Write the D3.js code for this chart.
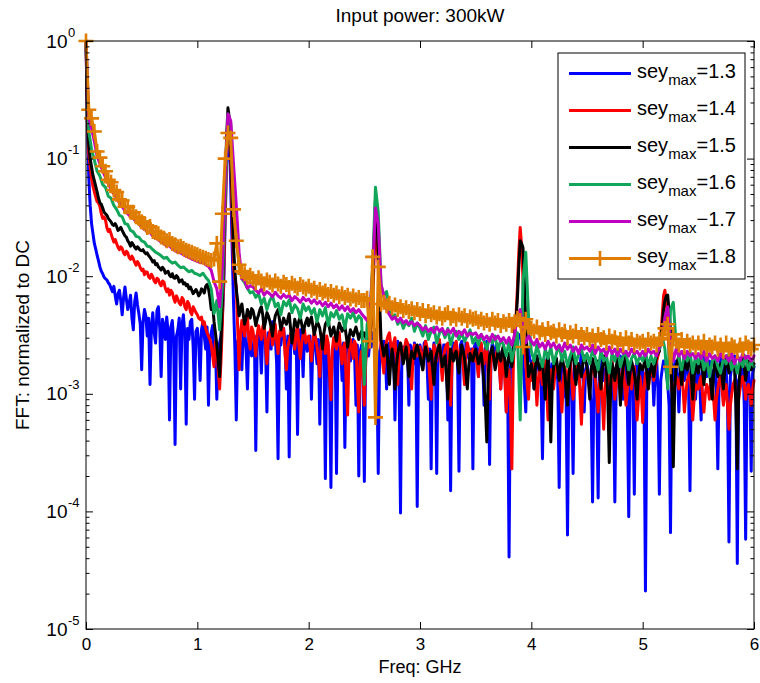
<!DOCTYPE html>
<html><head><meta charset="utf-8">
<script src="https://cdn.jsdelivr.net/npm/d3@7"></script>
<style>body{margin:0;background:#fff} svg{display:block} text{font-family:"Liberation Sans",Arial,Helvetica,sans-serif;fill:#000}</style>
</head><body><svg id="c" width="760" height="683"></svg>
<script>
// ---------- DATA ----------
// frequency grids (GHz)
const freqStep = 0.025, nPoints = 241;            // green, magenta, orange
const freqStepFine = 0.0125, nPointsFine = 481;   // blue, red, black
const freq = d3.range(nPoints).map(i => +(i * freqStep).toFixed(4));
const freqFine = d3.range(nPointsFine).map(i => +(i * freqStepFine).toFixed(4));

const sey13 = [
1.0,0.2,0.07,0.04,0.028,0.023,0.019,0.017,0.015,0.0135,0.012,0.011,0.0105,0.0098,0.0095,0.0093,0.0088,0.0085,0.0079,0.0074,0.0082,0.0068,0.0058,0.0071,0.0076,0.0062,0.0047,0.0066,0.0081,0.0064,0.0052,0.0059,0.0069,0.0044,0.0035,0.0061,0.0072,0.0057,0.0048,0.0039,
0.0016,0.0041,0.0052,0.0046,0.0031,0.0044,0.0012,0.0038,0.0049,0.0033,0.0027,0.0051,0.0055,0.0036,0.0014,0.0043,0.0038,0.0029,0.0045,0.0034,0.0006,0.0037,0.0042,0.0028,0.00037,0.0031,0.0035,0.0044,0.0011,0.0039,0.0047,0.0032,0.00055,0.0036,0.0029,0.0041,0.0043,0.0025,0.0009,0.0034,
0.0036,0.0027,0.0013,0.0035,0.0041,0.0031,0.0024,0.0037,0.0008,0.0029,0.0033,0.0038,0.0019,0.0026,0.0009,0.0022,0.0027,0.0031,0.0045,0.0085,0.03,0.09,0.19,0.14,0.06,0.018,0.006,0.0024,0.0006,0.0028,0.0031,0.0026,0.0016,0.0033,0.0036,0.0024,0.0011,0.003,0.0029,0.0021,
0.0024,0.0031,0.00033,0.0027,0.0034,0.0029,0.0015,0.0032,0.0038,0.0026,0.0007,0.0033,0.0028,0.0024,0.0041,0.0035,0.0031,0.0018,0.00028,0.0029,0.0026,0.0033,0.0036,0.0027,0.0011,0.0031,0.00029,0.0025,0.0032,0.0028,0.0022,0.0034,0.00045,0.0027,0.0035,0.0029,0.0014,0.0032,0.0029,0.0023,
0.0027,0.0031,0.0009,0.0026,0.0031,0.0024,0.0018,0.0029,0.00055,0.0025,0.0028,0.0022,0.00019,0.0027,0.0026,0.0014,0.00016,0.0024,0.0021,0.0028,0.00021,0.0023,0.0028,0.0025,0.0013,0.0027,0.00035,0.0022,0.0027,0.003,0.0019,0.0024,0.0029,0.0021,0.0008,0.0026,0.0002,0.0023,0.0026,0.0019,
0.00018,0.0024,0.0026,0.0021,0.0028,0.0025,0.0033,0.0029,0.0035,0.0016,0.00021,0.0023,0.0026,0.0021,0.0028,0.0024,0.0011,0.0026,0.0027,0.0019,0.0024,0.0027,0.0006,0.0022,0.0028,0.0012,0.000097,0.0023,0.0025,0.0021,0.0027,0.0024,0.0008,0.0026,0.0024,0.0018,0.0027,0.0022,0.00011,0.0024,
0.0026,0.0022,0.0017,0.0027,0.0028,0.0019,0.0009,0.0024,0.00023,0.0021,0.0027,0.0023,0.00021,0.0025,0.0028,0.0021,0.0015,0.0026,0.0026,0.0022,0.0006,0.0024,0.00015,0.0023,0.0027,0.0025,0.0021,0.0019,0.00022,0.0026,0.0028,0.0022,0.0012,0.0027,0.0025,0.002,0.0019,0.0024,0.00023,0.0025,
0.0027,0.0023,0.0014,0.0025,0.0026,0.0021,0.0008,0.0024,0.0028,0.0018,0.00025,0.0022,0.0027,0.0024,0.0018,0.0026,0.0026,0.0019,0.0011,0.0023,0.0024,0.0016,0.0007,0.0012,0.000041,0.0017,0.0021,0.0025,0.0024,0.0027,0.0029,0.0031,0.0032,0.0026,0.0019,0.0012,0.0007,0.0021,0.0024,0.0019,
0.0019,0.0016,0.0011,0.0018,0.0021,0.0017,0.0014,0.0012,0.00028,0.0015,0.0017,0.0019,0.0022,0.0016,0.0008,0.0018,0.0016,0.0014,0.002,0.0013,0.00016,0.0015,0.0018,0.0017,0.001,0.0009,0.000063,0.0014,0.0021,0.0011,0.00021,0.0016,0.0019,0.0018,0.0014,0.0017,0.0023,0.0015,0.0007,0.0016,
0.0018,0.0015,0.0011,0.0008,0.00012,0.0013,0.0016,0.0009,0.00013,0.0014,0.002,0.0017,0.0013,0.0016,0.0017,0.0014,0.0006,0.0015,0.0019,0.0011,0.00012,0.0013,0.0015,0.0018,0.0021,0.0016,0.0009,0.0015,0.0018,0.0008,0.00009,0.0014,0.0016,0.0011,0.00014,0.0015,0.0019,0.0017,0.0012,0.0016,
0.0017,0.0009,0.000021,0.0014,0.0019,0.0016,0.0014,0.0017,0.0008,0.0015,0.002,0.0011,0.00014,0.0013,0.0016,0.0019,0.0018,0.0015,0.0012,0.0008,0.000066,0.0012,0.0015,0.0018,0.0019,0.0014,0.0007,0.0015,0.0017,0.0016,0.0013,0.0018,0.002,0.0012,0.00015,0.0014,0.0016,0.0013,0.0009,0.0015,
0.0018,0.0013,0.0006,0.0016,0.0021,0.0017,0.0014,0.0018,0.0019,0.0015,0.001,0.0016,0.0016,0.0011,0.00023,0.0015,0.002,0.0017,0.0012,0.0018,0.0016,0.0009,0.000055,0.0014,0.0017,0.0019,0.0021,0.0012,0.000036,0.0013,0.0014,0.0017,0.0019,0.0008,0.000058,0.0014,0.0016,0.0012,0.00022,0.0015,0.0017];

const sey14 = [
1.0,0.25,0.11,0.085,0.068,0.058,0.052,0.047,0.043,0.042,0.039,0.034,0.031,0.032,0.03,0.026,0.024,0.025,0.023,0.021,0.0195,0.0205,0.019,0.0176,0.0168,0.0178,0.0172,0.0158,0.0152,0.0163,0.0158,0.0144,0.0139,0.0148,0.0141,0.0131,0.0124,0.0133,0.0127,0.0118,
0.0112,0.0115,0.0103,0.0109,0.0108,0.0099,0.0096,0.0104,0.0099,0.0091,0.0088,0.0096,0.0094,0.0086,0.0083,0.0091,0.0089,0.0079,0.0074,0.0078,0.0069,0.0076,0.0073,0.0065,0.006,0.0068,0.0064,0.0059,0.0057,0.0066,0.0063,0.0055,0.0052,0.0061,0.0058,0.005,0.0047,0.0055,0.0052,0.0049,
0.0047,0.0044,0.0043,0.0045,0.0039,0.0041,0.0036,0.0033,0.0031,0.0029,0.0026,0.0021,0.0017,0.0028,0.0024,0.0016,0.0011,0.0019,0.004,0.011,0.035,0.1,0.22,0.17,0.1,0.035,0.012,0.0095,0.008,0.0036,0.0016,0.0033,0.0042,0.0036,0.0031,0.0039,0.0045,0.0029,0.0024,0.0037,
0.0034,0.0027,0.0021,0.0032,0.0038,0.0033,0.0029,0.0037,0.0041,0.0026,0.0018,0.0029,0.0033,0.0037,0.0026,0.0031,0.0039,0.0028,0.0022,0.0034,0.0031,0.0033,0.0036,0.0022,0.0016,0.0025,0.0028,0.0032,0.0035,0.0029,0.0024,0.0033,0.0038,0.0026,0.002,0.0027,0.0032,0.0035,0.0027,0.0029,
0.0031,0.0025,0.0019,0.0028,0.0034,0.003,0.0025,0.002,0.0014,0.0026,0.0032,0.0027,0.0022,0.0031,0.0027,0.0015,0.00089,0.0024,0.003,0.0027,0.0024,0.0029,0.0033,0.0023,0.0018,0.0025,0.0027,0.0012,0.00066,0.0023,0.0029,0.0025,0.002,0.0028,0.0026,0.0013,0.0007,0.0019,0.0023,0.0014,
0.0008,0.0019,0.0024,0.0027,0.0029,0.0038,0.006,0.014,0.03,0.022,0.012,0.0045,0.0024,0.0019,0.0015,0.0024,0.0028,0.0031,0.0033,0.0026,0.0021,0.0027,0.003,0.0019,0.0012,0.0022,0.0027,0.0023,0.0019,0.0025,0.0029,0.0027,0.0024,0.0016,0.0011,0.0021,0.0026,0.0024,0.0021,0.0023,
0.0025,0.0021,0.0016,0.0024,0.0028,0.0025,0.0021,0.0014,0.0009,0.0021,0.0026,0.0023,0.0019,0.0025,0.0029,0.0019,0.0013,0.0021,0.0024,0.0026,0.0027,0.0015,0.0008,0.0018,0.0022,0.0026,0.0028,0.0022,0.0017,0.0023,0.0025,0.0018,0.0012,0.0022,0.0027,0.0024,0.002,0.0022,0.0024,0.0019,
0.0022,0.0018,0.0014,0.0023,0.0027,0.0021,0.0018,0.0023,0.0025,0.0015,0.0009,0.0019,0.0023,0.002,0.0017,0.0022,0.0026,0.0017,0.0011,0.0018,0.0021,0.0013,0.0007,0.0014,0.0016,0.0008,0.00023,0.0016,0.0035,0.0045,0.008,0.016,0.026,0.018,0.0095,0.0038,0.0018,0.0012,0.0009,0.0016,
0.0013,0.0017,0.0021,0.0014,0.0008,0.0013,0.0017,0.0015,0.0012,0.0016,0.0019,0.0011,0.0006,0.0012,0.0016,0.0014,0.0011,0.0015,0.0018,0.0016,0.0014,0.0011,0.0007,0.0013,0.0017,0.0015,0.0012,0.0016,0.0019,0.0013,0.0009,0.0012,0.0015,0.0017,0.0018,0.001,0.00055,0.0011,0.0014,0.0015,
0.0016,0.0013,0.0011,0.0015,0.0018,0.0016,0.0013,0.001,0.0007,0.0012,0.0015,0.0009,0.0005,0.0011,0.0017,0.0014,0.0012,0.0016,0.0019,0.0013,0.0009,0.0012,0.0016,0.0014,0.0013,0.0015,0.0018,0.0012,0.0008,0.0011,0.0015,0.0013,0.0011,0.0015,0.0017,0.0011,0.0006,0.0009,0.0014,0.0011,
0.00057,0.0011,0.0015,0.0013,0.0011,0.0014,0.0017,0.0015,0.0013,0.0016,0.0019,0.0021,0.0024,0.0032,0.0045,0.0068,0.0076,0.0058,0.004,0.0022,0.0016,0.0011,0.0009,0.0012,0.0014,0.0013,0.0011,0.0014,0.0016,0.0011,0.0007,0.001,0.0013,0.0014,0.0015,0.001,0.0006,0.0009,0.0012,0.0011,
0.0011,0.0013,0.0014,0.001,0.0007,0.001,0.0012,0.0011,0.0009,0.0012,0.0013,0.0009,0.0006,0.0009,0.0011,0.0013,0.0014,0.0011,0.0008,0.001,0.0012,0.0008,0.0005,0.0008,0.001,0.0012,0.0013,0.001,0.0007,0.0009,0.0011,0.0013,0.0014,0.0012,0.0009,0.0011,0.0012,0.001,0.0008,0.0011,0.0013];

const sey15 = [
1.0,0.3,0.13,0.1,0.085,0.072,0.065,0.058,0.052,0.046,0.042,0.041,0.038,0.035,0.034,0.033,0.031,0.03,0.029,0.0275,0.027,0.028,0.0265,0.0245,0.025,0.026,0.0245,0.0232,0.022,0.0215,0.02,0.0192,0.018,0.0193,0.0185,0.0176,0.017,0.0178,0.0172,0.0166,
0.0165,0.0168,0.016,0.0155,0.0158,0.015,0.0145,0.0139,0.0132,0.0136,0.0125,0.0128,0.012,0.0117,0.0113,0.0119,0.0115,0.0106,0.0108,0.011,0.0102,0.0099,0.0105,0.0097,0.0096,0.0101,0.0098,0.0089,0.0092,0.0093,0.0086,0.0088,0.0083,0.0085,0.0078,0.0081,0.0076,0.0071,0.0074,0.0077,
0.0073,0.0068,0.0071,0.0078,0.0076,0.0072,0.0082,0.0085,0.0079,0.0066,0.0052,0.0058,0.0041,0.0033,0.0026,0.0019,0.0014,0.0028,0.006,0.018,0.06,0.15,0.27,0.22,0.12,0.05,0.018,0.011,0.0077,0.0061,0.0046,0.0053,0.0058,0.0047,0.0039,0.0044,0.0052,0.0048,0.0044,0.0053,
0.0051,0.0045,0.0038,0.0043,0.0047,0.0052,0.0055,0.0047,0.0036,0.0041,0.0049,0.0046,0.0042,0.0037,0.0031,0.0039,0.0046,0.0049,0.0052,0.0043,0.0035,0.0039,0.0044,0.0041,0.0039,0.0043,0.0048,0.0036,0.0027,0.0034,0.0043,0.0039,0.0037,0.0042,0.0045,0.0039,0.0033,0.0037,0.0041,0.0044,
0.0038,0.0042,0.0045,0.0038,0.0032,0.0036,0.0041,0.0039,0.0036,0.003,0.0024,0.0033,0.0039,0.0041,0.0043,0.0036,0.0031,0.0034,0.0037,0.0032,0.0028,0.0035,0.004,0.0037,0.0034,0.0036,0.0038,0.0031,0.0025,0.003,0.0035,0.0033,0.0031,0.0034,0.0037,0.0033,0.0029,0.0032,0.0034,0.0031,
0.0033,0.003,0.0027,0.0029,0.0031,0.0042,0.0075,0.02,0.045,0.032,0.016,0.006,0.0029,0.0025,0.0021,0.0024,0.0026,0.0018,0.0012,0.0019,0.0024,0.0017,0.0011,0.0017,0.0022,0.0025,0.0027,0.0022,0.0018,0.0021,0.0025,0.0019,0.0014,0.0019,0.0023,0.0021,0.002,0.0024,0.0026,0.0023,
0.0021,0.0018,0.0016,0.0021,0.0025,0.0022,0.0019,0.0021,0.0023,0.0017,0.0012,0.0018,0.0022,0.0024,0.0026,0.0021,0.0017,0.0019,0.0021,0.0014,0.0009,0.0017,0.0024,0.0021,0.0019,0.0022,0.0023,0.0018,0.0015,0.0021,0.0026,0.0023,0.002,0.0015,0.0011,0.0017,0.0022,0.002,0.0019,0.0022,
0.0024,0.0021,0.0018,0.002,0.0022,0.0017,0.0012,0.0008,0.00039,0.0014,0.0021,0.0023,0.0025,0.002,0.0016,0.0019,0.0023,0.0021,0.0019,0.0023,0.0026,0.0019,0.0014,0.0018,0.0022,0.0019,0.0017,0.0022,0.0031,0.0042,0.0065,0.012,0.02,0.019,0.0175,0.009,0.004,0.0022,0.0014,0.0016,
0.0018,0.0015,0.0011,0.0017,0.0021,0.0018,0.0016,0.0018,0.0019,0.0013,0.0009,0.0016,0.0022,0.0011,0.00039,0.0012,0.0017,0.0019,0.002,0.0016,0.0013,0.0018,0.0021,0.0018,0.0015,0.0011,0.0008,0.0014,0.0019,0.002,0.0022,0.0017,0.0012,0.0015,0.0018,0.0016,0.0014,0.0018,0.0021,0.0019,
0.0017,0.0013,0.0009,0.0016,0.002,0.0017,0.0014,0.0017,0.0019,0.0015,0.0011,0.0016,0.0021,0.0019,0.0016,0.0009,0.00026,0.0012,0.0018,0.0016,0.0013,0.0017,0.002,0.0014,0.0008,0.0013,0.0017,0.0019,0.0021,0.0016,0.0012,0.0016,0.0019,0.0017,0.0015,0.0012,0.0009,0.0014,0.0018,0.0017,
0.0016,0.0018,0.002,0.0015,0.0011,0.0015,0.0018,0.0016,0.0014,0.0018,0.0021,0.0022,0.0023,0.0029,0.0038,0.0052,0.0062,0.0068,0.0069,0.005,0.0035,0.001,0.00024,0.0011,0.0017,0.0019,0.0021,0.0016,0.0012,0.0016,0.0019,0.0017,0.0016,0.0019,0.0022,0.0014,0.0009,0.0014,0.0018,0.0016,
0.0015,0.0018,0.0021,0.0016,0.0012,0.0016,0.0019,0.0017,0.0016,0.0012,0.0009,0.0015,0.002,0.0017,0.0014,0.0016,0.0018,0.0014,0.0011,0.0016,0.0021,0.0018,0.0015,0.0017,0.0019,0.0018,0.0017,0.0008,0.00023,0.0011,0.0016,0.0019,0.0021,0.0017,0.0013,0.0016,0.0019,0.0017,0.0016,0.0017,0.0018];

const sey16 = [
1.0,0.17,0.12,0.097,0.078,0.071,0.06,0.057,0.048,0.046,0.04,0.037,0.033,0.032,0.028,0.0275,0.0245,0.0238,0.0218,0.0215,
0.02,0.0195,0.018,0.0178,0.0168,0.016,0.0155,0.0149,0.0142,0.0145,0.0135,0.0129,0.0132,0.0124,0.0118,0.012,0.0114,0.0109,0.0112,0.0106,
0.0104,0.0101,0.0106,0.0098,0.0092,0.0078,0.0048,0.0062,0.0035,0.008,0.05,0.24,0.2,0.04,0.026,0.012,0.0095,0.0088,0.0079,0.0072,
0.0074,0.0066,0.0071,0.0058,0.0065,0.0052,0.0062,0.0068,0.0055,0.0059,0.0047,0.0061,0.0056,0.0063,0.0049,0.0057,0.0053,0.0044,0.0058,0.0051,
0.0055,0.0048,0.0053,0.0041,0.0052,0.0046,0.0054,0.0038,0.0049,0.0045,0.0051,0.0043,0.0047,0.0036,0.0048,0.0044,0.0049,0.0041,0.0046,0.0043,
0.0012,0.0039,0.0048,0.012,0.057,0.035,0.0085,0.0068,0.0074,0.0052,0.0045,0.0047,0.0039,0.0043,0.0036,0.0041,0.0038,0.0044,0.0034,0.004,
0.0036,0.0031,0.0038,0.0029,0.0034,0.0037,0.0027,0.0033,0.0035,0.003,0.0036,0.0026,0.0032,0.0034,0.0029,0.0033,0.0028,0.0031,0.0035,0.0027,
0.003,0.0026,0.0032,0.0028,0.0024,0.003,0.0027,0.0031,0.0023,0.0029,0.0026,0.0021,0.0028,0.0019,0.0025,0.0033,0.0006,0.009,0.016,0.0045,
0.0023,0.0019,0.0026,0.0021,0.0017,0.0024,0.002,0.0025,0.0018,0.0022,0.0026,0.0019,0.0023,0.0017,0.0021,0.0025,0.0018,0.0022,0.0024,0.0019,
0.0022,0.0018,0.0024,0.002,0.0016,0.0023,0.0019,0.0021,0.0015,0.0022,0.0019,0.0024,0.0017,0.0021,0.0023,0.0016,0.002,0.0022,0.0018,0.0021,
0.0019,0.0023,0.0017,0.0021,0.0018,0.0022,0.0024,0.0031,0.0024,0.0011,0.0052,0.006,0.0027,0.002,0.0016,0.0022,0.0019,0.0023,0.0015,0.0021,
0.0018,0.0022,0.0016,0.002,0.0014,0.0019,0.0021,0.0017,0.0015,0.002,0.0018,0.0022,0.0016,0.0019,0.0015,0.002,0.0017,0.0021,0.0016,0.0019,0.0017];

const sey17 = [
1.0,0.22,0.18,0.14,0.105,0.09,0.079,0.069,0.061,0.055,0.05,0.046,0.042,0.039,0.036,0.034,0.032,0.031,0.029,0.028,
0.026,0.025,0.024,0.0235,0.022,0.021,0.0205,0.0195,0.019,0.018,0.0182,0.017,0.0165,0.016,0.0158,0.0152,0.0148,0.0144,0.014,0.0137,
0.0134,0.013,0.0132,0.0125,0.0121,0.0112,0.009,0.0078,0.0055,0.012,0.07,0.24,0.21,0.09,0.04,0.016,0.0095,0.0092,0.0079,0.0083,
0.0081,0.0076,0.0072,0.0078,0.0069,0.0074,0.0071,0.0067,0.0073,0.0068,0.0065,0.007,0.0066,0.0069,0.0062,0.0067,0.0064,0.006,0.0066,0.0062,
0.0064,0.0059,0.0063,0.0058,0.0061,0.0056,0.006,0.0055,0.0059,0.0054,0.0057,0.0052,0.0056,0.0051,0.0055,0.005,0.0053,0.0049,0.0052,0.0048,
0.0045,0.0042,0.005,0.011,0.038,0.028,0.0085,0.0068,0.0052,0.0047,0.0043,0.0045,0.0041,0.0044,0.004,0.0042,0.0039,0.0041,0.0038,0.004,
0.0038,0.0035,0.0037,0.0034,0.0036,0.0033,0.0037,0.0034,0.0036,0.0032,0.0035,0.0033,0.0036,0.0031,0.0034,0.0032,0.0035,0.0031,0.0033,0.0032,
0.0033,0.003,0.0032,0.0029,0.0031,0.0028,0.0032,0.0029,0.0031,0.0028,0.003,0.0027,0.003,0.0026,0.0032,0.0046,0.0052,0.0036,0.0027,0.0031,
0.0028,0.0026,0.0029,0.0025,0.0027,0.0024,0.0028,0.0025,0.0027,0.0024,0.0026,0.0023,0.0027,0.0024,0.0026,0.0023,0.0025,0.0022,0.0026,0.0024,
0.0025,0.0023,0.0026,0.0022,0.0025,0.0023,0.0024,0.0021,0.0025,0.0022,0.0024,0.0021,0.0024,0.0022,0.0023,0.0021,0.0024,0.0022,0.0023,0.0021,
0.0023,0.0021,0.0024,0.0022,0.0023,0.0021,0.0025,0.003,0.0045,0.0055,0.0028,0.0019,0.0024,0.0021,0.0023,0.002,0.0023,0.0021,0.0022,0.002,
0.0022,0.002,0.0023,0.0019,0.0022,0.002,0.0021,0.0019,0.0022,0.002,0.0021,0.0019,0.0022,0.0018,0.0021,0.0019,0.0022,0.002,0.0021,0.0019,0.0021];

const sey18 = [
1.0,0.26,0.22,0.17,0.115,0.102,0.086,0.078,0.066,0.063,0.054,0.052,0.045,0.044,0.039,0.039,0.035,0.035,0.032,0.031,
0.029,0.028,0.026,0.0265,0.024,0.0235,0.023,0.0215,0.021,0.02,0.0205,0.019,0.0185,0.0178,0.018,0.0172,0.0166,0.0163,0.016,0.0155,
0.0152,0.0148,0.0145,0.0142,0.0139,0.0136,0.014,0.019,0.009,0.034,0.1,0.165,0.15,0.037,0.02,0.0125,0.011,0.0105,0.0098,0.0102,
0.0095,0.0088,0.0097,0.0091,0.0086,0.0093,0.0089,0.0084,0.0091,0.0086,0.0082,0.0089,0.0085,0.008,0.0087,0.0083,0.0079,0.0085,0.0081,0.0078,
0.0082,0.0076,0.0079,0.0073,0.0077,0.0072,0.0075,0.007,0.0074,0.0069,0.0072,0.0067,0.0071,0.0066,0.0069,0.0064,0.0068,0.0063,0.0066,0.0062,
0.0062,0.0065,0.0028,0.0146,0.00063,0.012,0.0058,0.006,0.0056,0.0059,0.0054,0.0057,0.0052,0.0055,0.0051,0.0054,0.005,0.0053,0.0049,0.0052,
0.0048,0.0051,0.0046,0.005,0.0047,0.0049,0.0045,0.0048,0.0044,0.0047,0.0049,0.0044,0.0046,0.0043,0.0047,0.0044,0.0046,0.0042,0.0045,0.0043,
0.0044,0.0041,0.0043,0.004,0.0042,0.0039,0.0043,0.004,0.0042,0.0038,0.0041,0.0039,0.0042,0.0038,0.0041,0.0044,0.0042,0.0025,0.0043,0.0037,
0.0036,0.0034,0.0037,0.0033,0.0035,0.0032,0.0036,0.0033,0.0034,0.0031,0.0035,0.0032,0.0034,0.003,0.0033,0.0031,0.0034,0.003,0.0032,0.003,
0.0032,0.0029,0.0031,0.0028,0.0032,0.0029,0.003,0.0027,0.0031,0.0028,0.003,0.0027,0.0029,0.0026,0.003,0.0027,0.0029,0.0026,0.0028,0.0027,
0.0028,0.0026,0.0029,0.0027,0.0028,0.0026,0.0029,0.003,0.0036,0.0039,0.0017,0.0032,0.0028,0.0026,0.0029,0.0025,0.0028,0.0026,0.0027,0.0025,
0.0027,0.0025,0.0028,0.0024,0.0026,0.0025,0.0027,0.0024,0.0026,0.0023,0.0027,0.0024,0.0026,0.0025,0.0023,0.0026,0.0024,0.0027,0.0025,0.0024,0.0026];

const seriesNames = ["1.3","1.4","1.5","1.6","1.7","1.8"];
const legendOps   = ["=","=","=","=","\u2212","="];
const xTicks = [0,1,2,3,4,5,6];
const yExponents = [0,-1,-2,-3,-4,-5];
const titleText = "Input power: 300kW";
const xLabelText = "Freq: GHz";
const yLabelText = "FFT: normalized to DC";

// ---------- STYLE / LAYOUT ----------
const colors = ["#0000ff","#ff0000","#000000","#12a65a","#bf00bf","#df7d00"];
const allSeries = [sey13,sey14,sey15,sey16,sey17,sey18];
const grids = [freqFine,freqFine,freqFine,freq,freq,freq];
const M = {l:86, r:754, t:41, b:629};

const svg = d3.select("#c");
const x = d3.scaleLinear().domain([0,6]).range([M.l, M.r]);
const y = d3.scaleLog().domain([1e-5,1]).range([M.b, M.t]);

svg.append("rect").attr("width",760).attr("height",683).attr("fill","#fff");

allSeries.forEach((s,k)=>{
  const g = grids[k];
  const line = d3.line().x((d,i)=>x(g[i])).y(d=>y(d));
  svg.append("path").datum(s.slice(0,g.length)).attr("d",line)
    .attr("fill","none").attr("stroke",colors[k]).attr("stroke-width",3)
    .attr("stroke-linejoin","round").attr("stroke-linecap","round");
});
const mk = 7.5;
svg.append("g").selectAll("path").data(sey18).join("path")
  .attr("d",(d,i)=>{const px=x(freq[i]), py=y(d); return `M${px-mk},${py}H${px+mk}M${px},${py-mk}V${py+mk}`;})
  .attr("stroke",colors[5]).attr("stroke-width",2.6).attr("fill","none");

const majors = yExponents.map(e=>Math.pow(10,e));
const minors = [];
yExponents.slice(1).forEach(e=>{ for(let m=2;m<=9;m++) minors.push(m*Math.pow(10,e)); });

function clean(g){ g.select(".domain").remove(); g.selectAll("line").attr("stroke","#000"); }
svg.append("g").attr("transform",`translate(0,${M.b})`)
  .call(d3.axisBottom(x).tickValues(xTicks).tickSize(-7).tickSizeOuter(0).tickPadding(9).tickFormat(d3.format("d")))
  .call(clean).call(g=>g.selectAll("text").attr("font-size",17).attr("font-family","Liberation Sans, Arial, sans-serif"));
svg.append("g").attr("transform",`translate(0,${M.t})`)
  .call(d3.axisTop(x).tickValues(xTicks).tickSize(-7).tickSizeOuter(0).tickFormat(""))
  .call(clean);
[["L",M.l],["R",M.r]].forEach(([side,px])=>{
  const gen = side==="L"? d3.axisLeft : d3.axisRight;
  svg.append("g").attr("transform",`translate(${px},0)`)
    .call(gen(y).tickValues(majors).tickSize(-7).tickSizeOuter(0).tickFormat(""))
    .call(clean);
  svg.append("g").attr("transform",`translate(${px},0)`)
    .call(gen(y).tickValues(minors).tickSize(-3.5).tickSizeOuter(0).tickFormat(""))
    .call(clean);
});
svg.append("rect").attr("x",M.l).attr("y",M.t).attr("width",M.r-M.l).attr("height",M.b-M.t)
  .attr("fill","none").attr("stroke","#000").attr("stroke-width",1);

const yl = svg.append("g");
yExponents.forEach(e=>{
  const py = y(Math.pow(10,e));
  yl.append("text").attr("x",67.5).attr("y",py+6.5).attr("text-anchor","end").attr("font-size",19).text("10");
  yl.append("text").attr("x",68).attr("y",py-4.5).attr("font-size",13).text(String(e));
});

svg.append("text").attr("x",(M.l+M.r)/2).attr("y",22).attr("text-anchor","middle").attr("font-size",19).text(titleText);
svg.append("text").attr("x",(M.l+M.r)/2).attr("y",673).attr("text-anchor","middle").attr("font-size",18).text(xLabelText);
svg.append("text").attr("transform",`translate(29,${(M.t+M.b)/2}) rotate(-90)`).attr("text-anchor","middle").attr("font-size",19).text(yLabelText);

const lg = svg.append("g");
lg.append("rect").attr("x",558).attr("y",53).attr("width",187).attr("height",226)
  .attr("fill","#fff").attr("stroke","#000").attr("stroke-width",1);
seriesNames.forEach((nm,k)=>{
  const ly = 73.5 + k*37;
  lg.append("line").attr("x1",569).attr("x2",631).attr("y1",ly).attr("y2",ly)
    .attr("stroke",colors[k]).attr("stroke-width",3);
  if(k===5){
    lg.append("path").attr("d",`M${600-mk},${ly}H${600+mk}M600,${ly-mk}V${ly+mk}`)
      .attr("stroke",colors[k]).attr("stroke-width",2.6);
  }
  const t = lg.append("text").attr("x",637).attr("y",ly+4).attr("font-size",20);
  t.append("tspan").text("sey");
  t.append("tspan").attr("font-size",15).attr("dy",7.5).text("max");
  t.append("tspan").attr("dy",-7.5).text(legendOps[k]+nm);
});
</script>
</body></html>
